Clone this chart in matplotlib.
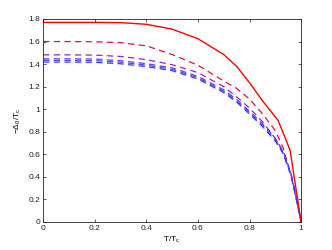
"""Gap ratio vs reduced temperature, MATLAB-style small figure."""

import matplotlib
matplotlib.use("Agg")
import matplotlib.pyplot as plt

plt.rcParams["font.family"] = ["Liberation Sans", "DejaVu Sans"]

# solid (BCS-like) curve, coarse near Tc
t_solid = [0, 0.1, 0.2, 0.3, 0.4, 0.5, 0.6, 0.7, 0.75, 0.8, 0.85, 0.911, 0.957, 1.0]
gap_solid = [1.77, 1.77, 1.77, 1.768, 1.753, 1.71, 1.625, 1.485, 1.38, 1.235, 1.075, 0.9, 0.638, 0.0]

# dashed curves share one T grid
t_dash = [0, 0.1, 0.2, 0.3, 0.4, 0.5, 0.6, 0.7, 0.75, 0.8, 0.85, 0.9, 0.93, 0.96, 0.98, 1.0]
gap_red = [1.60, 1.60, 1.598, 1.59, 1.562, 1.485, 1.39, 1.25, 1.185, 1.09, 0.96, 0.81, 0.66, 0.42, 0.25, 0.0]
gap_purple = [1.482, 1.482, 1.48, 1.468, 1.44, 1.395, 1.325, 1.20, 1.11, 1.01, 0.89, 0.74, 0.63, 0.44, 0.23, 0.0]
gap_blue1 = [1.447, 1.447, 1.445, 1.43, 1.404, 1.367, 1.292, 1.172, 1.087, 0.982, 0.872, 0.742, 0.622, 0.432, 0.222, 0.0]
gap_blue2 = [1.433, 1.433, 1.431, 1.417, 1.391, 1.355, 1.28, 1.16, 1.075, 0.97, 0.86, 0.73, 0.615, 0.425, 0.22, 0.0]
gap_blue3 = [1.418, 1.418, 1.416, 1.403, 1.378, 1.342, 1.268, 1.148, 1.063, 0.958, 0.848, 0.718, 0.607, 0.418, 0.214, 0.0]

dashed = [
    (gap_red, "#e0103c"),
    (gap_purple, "#9a22c8"),
    (gap_blue1, "#6a40f0"),
    (gap_blue2, "#4a48ff"),
    (gap_blue3, "#3838ff"),
]

fig = plt.figure(figsize=(3.32, 2.5), dpi=100)
ax = fig.add_axes([0.13, 0.112, 0.777, 0.812])

for vals, col in dashed:
    ax.plot(t_dash, vals, "--", color=col, linewidth=0.9, dashes=(5, 3.5))
ax.plot(t_solid, gap_solid, "-", color="#ff0000", linewidth=1.0)

ax.set_xlim(0, 1)
ax.set_ylim(0, 1.8)
ax.set_xticks([0, 0.2, 0.4, 0.6, 0.8, 1])
ax.set_xticklabels(["0", "0.2", "0.4", "0.6", "0.8", "1"])
ax.set_yticks([0, 0.2, 0.4, 0.6, 0.8, 1, 1.2, 1.4, 1.6, 1.8])
ax.set_yticklabels(["0", "0.2", "0.4", "0.6", "0.8", "1", "1.2", "1.4", "1.6", "1.8"])
ax.tick_params(direction="in", length=2.5, width=0.5, labelsize=6,
               top=True, right=True, colors="#222222", pad=2)
for sp in ax.spines.values():
    sp.set_linewidth(0.6)
    sp.set_color("#222222")

ax.set_xlabel("T/T$_\\mathregular{c}$", fontsize=6, labelpad=2)
ax.set_ylabel("−Δ$_\\mathregular{0}$/T$_\\mathregular{c}$", fontsize=6, labelpad=4)

fig.savefig("out.png", dpi=100)
